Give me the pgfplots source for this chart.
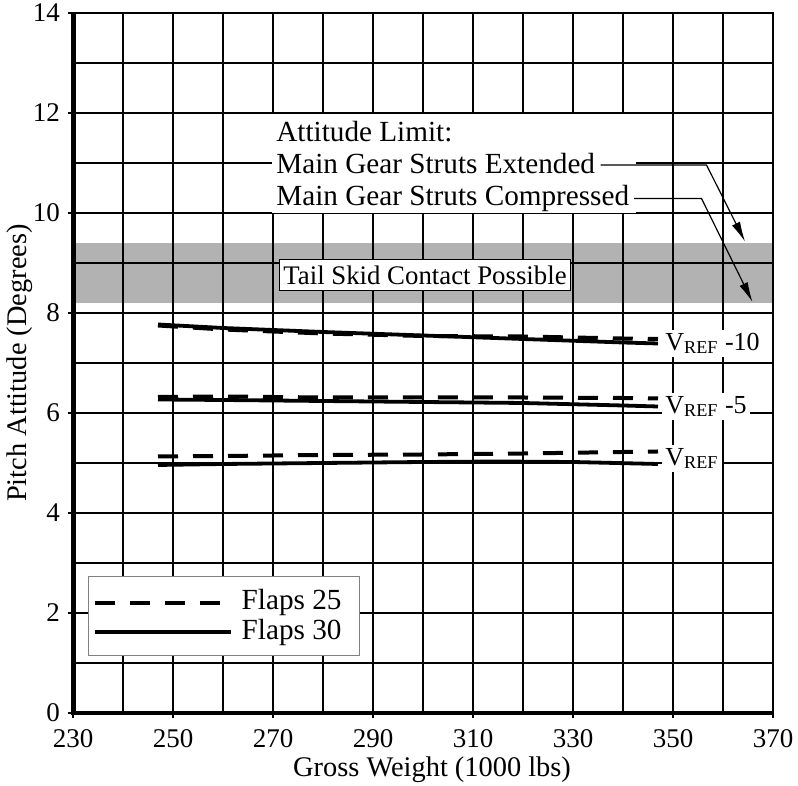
\documentclass[border=0pt]{standalone}
\usepackage{pgfplots}
\pgfplotsset{compat=1.18}
\usepackage{fontspec}
\setmainfont{Liberation Serif}
\usetikzlibrary{arrows.meta}
\newcommand{\fs}{\fontsize{14.6}{16.1}\selectfont}
\newcommand{\fv}{\fontsize{13}{15}\selectfont}
\begin{document}
\begin{tikzpicture}
\begin{axis}[
 set layers, clip=false,
 width=350pt, height=350pt, scale only axis,
 xmin=230, xmax=370, ymin=0, ymax=14,
 xtick={230,250,...,370}, ytick={0,2,...,14},
 minor xtick={240,260,...,360}, minor ytick={1,3,...,13},
 grid=both,
 major grid style={line width=1pt, black},
 minor grid style={line width=0.6pt, black},
 tick align=outside, tick pos=left,
 major tick length=2.5pt, minor tick length=0pt,
 tick style={black, line width=0.8pt},
 axis line style={line width=1pt},
 /pgf/number format/assume math mode=true,
 /pgf/number format/1000 sep={},
 tick label style={font=\fontsize{13.5}{15}\selectfont},
 xticklabel style={yshift=-2pt},
 yticklabel style={xshift=-0.5pt},
 label style={font=\fontsize{14.2}{16}\selectfont},
 xlabel={Gross Weight (1000 lbs)},
 ylabel={Pitch Attitude (Degrees)},
 xlabel style={at={(axis description cs:0.513,0)}, anchor=base, yshift=-32pt},
 ylabel style={at={(axis description cs:-0.0571,0.5)}, anchor=south, inner sep=0pt},
 legend style={at={(axis cs:233,2.74)}, anchor=north west, draw=gray, line width=0.7pt,
   fill=white, font=\fs, inner xsep=2pt, inner ysep=5.5pt, row sep=1pt,
   nodes={inner sep=1pt, anchor=base west},
   /tikz/every odd column/.append style={column sep=3.5pt}},
 legend image code/.code={\draw[#1] (0pt,0.35em) -- (68pt,0.35em);},
 legend cell align=left,
]
\begin{pgfonlayer}{axis background}
\fill[gray!60] (axis cs:230,8.2) rectangle (axis cs:370,9.4);
\end{pgfonlayer}

% VREF-10
\addplot[black, line width=2pt, dash pattern=on 10pt off 7.5pt] coordinates {
 (247,7.75) (260,7.67) (280,7.59) (300,7.54) (320,7.53) (340,7.49) (347,7.48)};
\addlegendentry{Flaps 25\kern6pt}
\addplot[black, line width=1.9pt] coordinates {
 (247,7.77) (260,7.70) (280,7.62) (300,7.55) (320,7.48) (340,7.41) (347,7.39)};
\addlegendentry{Flaps 30\kern6pt}
% VREF-5
\addplot[black, line width=2pt, dash pattern=on 10pt off 7.5pt, forget plot] coordinates {
 (247,6.32) (260,6.33) (280,6.31) (300,6.31) (320,6.31) (340,6.30) (347,6.29)};
\addplot[black, line width=1.9pt, forget plot] coordinates {
 (247,6.27) (260,6.26) (280,6.24) (300,6.22) (320,6.20) (340,6.15) (347,6.13)};
% VREF
\addplot[black, line width=2pt, dash pattern=on 10pt off 7.5pt, forget plot] coordinates {
 (247,5.13) (260,5.14) (280,5.16) (300,5.17) (320,5.19) (340,5.22) (347,5.23)};
\addplot[black, line width=1.9pt, forget plot] coordinates {
 (247,4.96) (260,4.98) (280,5.00) (300,5.02) (315,5.03) (330,5.02) (347,4.98)};

% thick left and bottom axis lines
\draw[line width=2.5pt] (rel axis cs:0,-0.0035) -- (rel axis cs:0,1);
\draw[line width=2pt] (rel axis cs:-0.0035,0) -- (rel axis cs:1,0);

% annotation box
\fill[white] (axis cs:269.7,11.97) rectangle (axis cs:342.6,10.0);
\node[font=\fs, anchor=base west, inner sep=0pt] at (axis cs:270.6,11.43) {Attitude Limit:};
\node[font=\fs, anchor=base west, inner sep=0pt] at (axis cs:270.6,10.79) {Main Gear Struts Extended};
\node[font=\fs, anchor=base west, inner sep=0pt] at (axis cs:270.6,10.14) {Main Gear Struts Compressed};
\draw[line width=0.6pt, -{Latex[length=10pt,width=4.5pt]}] (axis cs:335.5,10.96) -- (axis cs:356.7,10.96) -- (axis cs:364.4,9.43);
\draw[line width=0.6pt, -{Latex[length=10pt,width=4.5pt]}] (axis cs:342.2,10.29) -- (axis cs:355.7,10.29) -- (axis cs:365.9,8.22);

% tail skid box
\node[font=\fontsize{13.4}{15}\selectfont, draw=black, line width=0.6pt, fill=white, inner xsep=2pt, inner ysep=3pt] at (axis cs:300.4,8.76) {Tail Skid Contact Possible};

% VREF labels
\node[font=\fv, fill=white, anchor=west, inner sep=1.5pt] at (axis cs:347.8,7.39) {V\textsubscript{REF} -10};
\node[font=\fv, fill=white, anchor=west, inner sep=1.5pt] at (axis cs:347.8,6.13) {V\textsubscript{REF} -5};
\node[font=\fv, fill=white, anchor=west, inner sep=1.5pt] at (axis cs:347.8,5.09) {V\textsubscript{REF}};
\end{axis}
\pgfresetboundingbox
\path (-36.5pt,-36.5pt) rectangle (362.5pt,356.5pt);
\end{tikzpicture}
\end{document}
